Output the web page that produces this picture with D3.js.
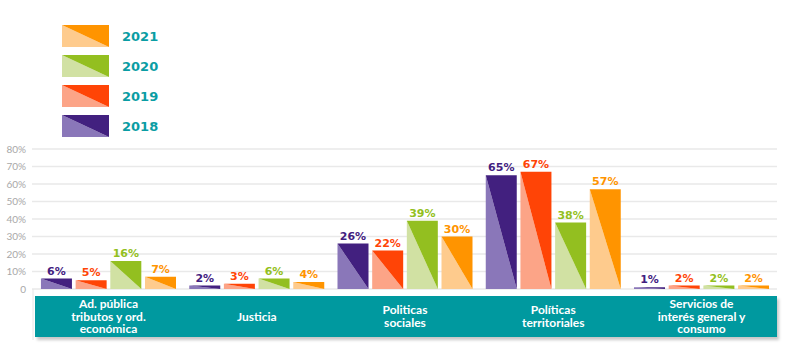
<!DOCTYPE html>
<html>
<head>
<meta charset="utf-8">
<script src="https://cdn.jsdelivr.net/npm/d3@7"></script>
<style>
  html, body { margin: 0; padding: 0; background: #ffffff; }
  svg { display: block; }
</style>
</head>
<body>
<svg id="chart" width="800" height="355"></svg>
<script>
// ---- Data ----
const categories = [
  "Ad. pública tributos y ord. económica",
  "Justicia",
  "Politicas sociales",
  "Políticas territoriales",
  "Servicios de interés general y consumo"
];
const categoryLines = [
  ["Ad. pública", "tributos y ord.", "económica"],
  ["Justicia"],
  ["Politicas", "sociales"],
  ["Políticas", "territoriales"],
  ["Servicios de", "interés general y", "consumo"]
];
const years = ["2018", "2019", "2020", "2021"];
const values2018 = [6, 2, 26, 65, 1];
const values2019 = [5, 3, 22, 67, 2];
const values2020 = [16, 6, 39, 38, 2];
const values2021 = [7, 4, 30, 57, 2];
const yTicks = [0, 10, 20, 30, 40, 50, 60, 70, 80];
const legendOrder = ["2021", "2020", "2019", "2018"];

const seriesValues = { "2018": values2018, "2019": values2019, "2020": values2020, "2021": values2021 };
const darkColor = { "2018": "#42207f", "2019": "#ff4406", "2020": "#93bf20", "2021": "#ff9400" };
const lightColor = { "2018": "#8a77b9", "2019": "#fca487", "2020": "#d1e1a3", "2021": "#fecb8d" };

// ---- Layout ----
const svg = d3.select("#chart");
const defs = svg.append("defs");
const f = defs.append("filter").attr("id", "shadow").attr("x", "-5%").attr("y", "-20%").attr("width", "110%").attr("height", "150%");
f.append("feDropShadow").attr("dx", 2).attr("dy", 3).attr("stdDeviation", 1.6).attr("flood-color", "#000").attr("flood-opacity", 0.22);

const x0 = d3.scaleBand().domain(categories).range([34, 776]).paddingInner(0.0894).paddingOuter(0.047);
const x1 = d3.scaleBand().domain(years).range([0, x0.bandwidth()]).paddingInner(0.106).paddingOuter(0);
const y = d3.scaleLinear().domain([0, 80]).range([289, 149]);

// Gridlines
svg.append("g").selectAll("line").data(yTicks).join("line")
  .attr("x1", 32).attr("x2", 777)
  .attr("y1", d => y(d)).attr("y2", d => y(d))
  .attr("stroke", "#e9e9e9").attr("stroke-width", 1.5);

// Y tick labels
svg.append("g").selectAll("text").data(yTicks).join("text")
  .attr("x", 26).attr("y", d => y(d) + 3.5)
  .attr("text-anchor", "end")
  .attr("font-family", "Lato, sans-serif").attr("font-size", 10)
  .attr("fill", "#a8a8a8")
  .text(d => d === 0 ? "0" : d + "%");

// Faint left vertical line
svg.append("line").attr("x1", 33).attr("x2", 33).attr("y1", 289).attr("y2", 340)
  .attr("stroke", "#e6e6e6").attr("stroke-width", 1);

// Bars
const barData = [];
categories.forEach((c, i) => {
  years.forEach(yr => barData.push({ cat: c, year: yr, value: seriesValues[yr][i] }));
});

const bars = svg.append("g").selectAll("g").data(barData).join("g");
bars.each(function(d) {
  const g = d3.select(this);
  const xl = x0(d.cat) + x1(d.year);
  const xr = xl + x1.bandwidth();
  const yt = y(d.value);
  const yb = y(0);
  // light lower-left triangle
  g.append("path")
    .attr("d", `M${xl},${yt} L${xr},${yb} L${xl},${yb} Z`)
    .attr("fill", lightColor[d.year]);
  // dark upper-right triangle
  g.append("path")
    .attr("d", `M${xl},${yt} L${xr},${yt} L${xr},${yb} Z`)
    .attr("fill", darkColor[d.year]);
  // value label
  g.append("text")
    .attr("x", (xl + xr) / 2).attr("y", yt - 4)
    .attr("text-anchor", "middle")
    .attr("font-family", "DejaVu Sans, sans-serif").attr("font-weight", "bold").attr("font-size", 11)
    .attr("fill", darkColor[d.year])
    .text(d.value + "%");
});

// Category band
svg.append("rect")
  .attr("x", 35).attr("y", 296).attr("width", 742).attr("height", 41)
  .attr("fill", "#05999f").attr("filter", "url(#shadow)");

const catG = svg.append("g").selectAll("text").data(categories).join("text")
  .attr("text-anchor", "middle")
  .attr("font-family", "Lato, sans-serif").attr("font-weight", "bold").attr("font-size", 12)
  .attr("fill", "#ffffff");
catG.each(function(d, i) {
  const lines = categoryLines[i];
  const lh = 12.5;
  const cx = x0(d) + x0.bandwidth() / 2;
  const startY = 316.5 + 4 - (lines.length - 1) * lh / 2;
  d3.select(this).selectAll("tspan").data(lines).join("tspan")
    .attr("x", cx).attr("y", (l, j) => startY + j * lh)
    .text(l => l);
});

// Legend
const legend = svg.append("g").selectAll("g").data(legendOrder).join("g")
  .attr("transform", (d, i) => `translate(62, ${25 + i * 30})`);
legend.append("path")
  .attr("d", "M0,0 L47,22 L0,22 Z")
  .attr("fill", d => lightColor[d]);
legend.append("path")
  .attr("d", "M0,0 L47,0 L47,22 Z")
  .attr("fill", d => darkColor[d]);
legend.append("text")
  .attr("x", 60).attr("y", 16)
  .attr("font-family", "DejaVu Sans, sans-serif").attr("font-weight", "bold").attr("font-size", 13)
  .attr("fill", "#0a9da4")
  .text(d => d);
</script>
</body>
</html>
